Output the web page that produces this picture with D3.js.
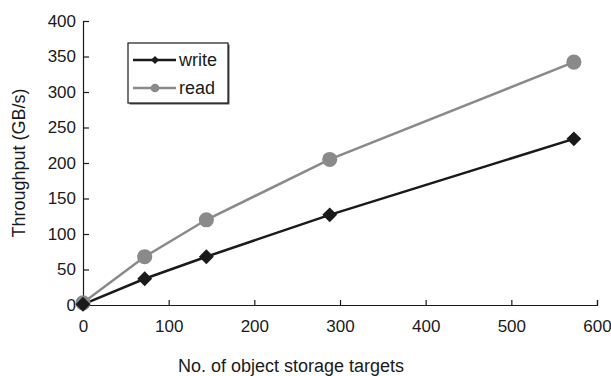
<!DOCTYPE html>
<html>
<head>
<meta charset="utf-8">
<script src="https://cdn.jsdelivr.net/npm/d3@7"></script>
<style>
  body { margin: 0; background: #fff; }
  svg { display: block; font-family: "Liberation Sans", Arial, sans-serif; }
</style>
</head>
<body>
<svg id="chart" width="611" height="376"></svg>
<script>
// Data
const targets = [0, 72, 144, 288, 573];
const writeVals = [1, 37, 68, 127, 234];
const readVals = [3, 68, 120, 205, 342];
const xTicks = [0, 100, 200, 300, 400, 500, 600];
const yTicks = [0, 50, 100, 150, 200, 250, 300, 350, 400];

const svg = d3.select('#chart');
const margin = { top: 21, left: 83, right: 14, bottom: 71 };
const width = 611, height = 376;

const x = d3.scaleLinear().domain([0, 600]).range([margin.left, width - margin.right]);
const y = d3.scaleLinear().domain([0, 400]).range([height - margin.bottom, margin.top]);

// Axes, ticks point inward
const xAxis = svg.append('g')
    .attr('transform', `translate(0,${y(0)})`)
    .call(d3.axisBottom(x).tickValues(xTicks).tickSizeInner(-5).tickSizeOuter(-5).tickPadding(15));
const yAxis = svg.append('g')
    .attr('transform', `translate(${x(0)},0)`)
    .call(d3.axisLeft(y).tickValues(yTicks).tickSizeInner(-6).tickSizeOuter(-6).tickPadding(7));

[xAxis, yAxis].forEach(a => {
    a.attr('font-size', null).attr('font-family', null);
    a.selectAll('path, line').attr('stroke', '#1a1a1a').attr('stroke-width', 1.2);
    a.selectAll('text').attr('fill', '#1a1a1a').style('font-size', '17px');
});

// Axis titles
svg.append('text')
    .attr('x', 291)
    .attr('y', 372)
    .attr('text-anchor', 'middle')
    .style('font-size', '18px')
    .attr('fill', '#1a1a1a')
    .text('No. of object storage targets');

svg.append('text')
    .attr('transform', `translate(25,${(y(0) + y(400)) / 2}) rotate(-90)`)
    .attr('text-anchor', 'middle')
    .style('font-size', '18px')
    .attr('fill', '#1a1a1a')
    .text('Throughput (GB/s)');

const series = [
    { name: 'write', values: writeVals, color: '#1a1a1a', shape: d3.symbolSquare, size: 110, legendSize: 34 },
    { name: 'read', values: readVals, color: '#8a8a8a', shape: d3.symbolCircle, size: 180, legendSize: 60 }
];

const line = d3.line().x(d => x(d[0])).y(d => y(d[1]));
const rot = s => s.shape === d3.symbolSquare ? ' rotate(45)' : '';

// Draw read first so write sits on top at origin
series.slice().reverse().forEach(s => {
    const pts = targets.map((t, i) => [t, s.values[i]]);
    svg.append('path')
        .datum(pts)
        .attr('d', line)
        .attr('fill', 'none')
        .attr('stroke', s.color)
        .attr('stroke-width', 2.5);
});

series.slice().reverse().forEach(s => {
    const pts = targets.map((t, i) => [t, s.values[i]]);
    svg.append('g').selectAll('path')
        .data(pts)
        .join('path')
        .attr('transform', d => `translate(${x(d[0])},${y(d[1])})${rot(s)}`)
        .attr('d', d3.symbol().type(s.shape).size(s.size))
        .attr('fill', s.color);
});

// Legend
const legend = svg.append('g').attr('transform', 'translate(128,43)');
legend.append('rect')
    .attr('x', 1.5).attr('y', 1.5)
    .attr('width', 100).attr('height', 60)
    .attr('fill', '#555');
legend.append('rect')
    .attr('width', 100).attr('height', 60)
    .attr('fill', '#fff')
    .attr('stroke', '#1a1a1a')
    .attr('stroke-width', 1.2);

series.forEach((s, i) => {
    const ly = 17 + i * 28;
    legend.append('line')
        .attr('x1', 5).attr('x2', 48)
        .attr('y1', ly).attr('y2', ly)
        .attr('stroke', s.color)
        .attr('stroke-width', 2.5);
    legend.append('path')
        .attr('transform', `translate(27,${ly})${rot(s)}`)
        .attr('d', d3.symbol().type(s.shape).size(s.legendSize))
        .attr('fill', s.color);
    legend.append('text')
        .attr('x', 51).attr('y', ly)
        .attr('dy', '0.35em')
        .style('font-size', '18px')
        .attr('fill', '#1a1a1a')
        .text(s.name);
});
</script>
</body>
</html>
